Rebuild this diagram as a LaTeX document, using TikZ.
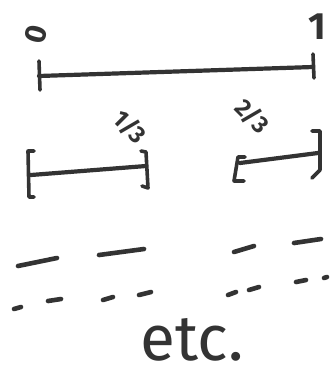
\documentclass[tikz,border=0pt]{standalone}
\usepackage{fontspec}
\setmainfont{Fira Sans}
\usetikzlibrary{calc}
\definecolor{ink}{HTML}{333333}
\tikzset{
  seg/.style={draw=ink, line width=4.2pt, line cap=round},
  tick/.style={draw=ink, line width=3.6pt, line cap=round, line join=round},
  dashseg/.style={draw=ink, line width=4.6pt, line cap=round},
  lbl/.style={text=ink, inner sep=0pt},
}
\begin{document}
\begin{tikzpicture}[x=1pt,y=-1pt]
\useasboundingbox[fill=white] (0,0) rectangle (334,376);
% labels
\node[lbl, font=\fontsize{30}{30}\selectfont\bfseries, rotate=75] (zero) at (36,34) {0};
\node[lbl, font=\fontsize{38}{38}\selectfont\bfseries] (one) at (317,27) {1};
% top segment
\coordinate (a0) at (39,76);
\coordinate (a1) at (313,67);
\draw[seg] (a0) -- (a1);
\draw[tick] ($(a0)+(0,-15)$) -- ($(a0)+(1,14)$);
\draw[tick] ($(a1)+(0,-13)$) -- ($(a1)+(1,11)$);
% second row, left
\coordinate (b0) at (31,175);
\coordinate (b1) at (146,166);
\draw[seg] (b0) -- (b1);
\draw[tick] (34,151) -- (28,151) -- (29,197) -- (34,197);
\draw[tick] (141,151) -- (146,152) -- (148,188) -- (142,186);
\node[lbl, font=\fontsize{24}{24}\selectfont\bfseries, rotate=-45] (third) at (130,127) {1/3};
% second row, right
\coordinate (c0) at (240,163);
\coordinate (c1) at (318,153);
\draw[seg] (c0) -- (c1);
\draw[tick] (245,157) -- (238,157) -- (234,181) -- (244,181);
\draw[tick] (312,131) -- (320,131) -- (320,170) -- (312,178);
\node[lbl, font=\fontsize{24}{24}\selectfont\bfseries, rotate=-45] (twothirds) at (252,116) {2/3};
% third row
\draw[dashseg] (18,266) -- (57,258);
\draw[dashseg] (99,255) -- (144,249);
\draw[dashseg] (234,252) -- (254,246);
\draw[dashseg] (294,243) -- (321,239);
% fourth row
\draw[dashseg] (14,309) -- (21,307);
\draw[dashseg] (48,301) -- (61,299);
\draw[dashseg] (103,300) -- (113,297);
\draw[dashseg] (139,295) -- (151,292);
\draw[dashseg] (228,295) -- (236,292);
\draw[dashseg] (249,290) -- (259,287);
\draw[dashseg] (296,282) -- (306,280);
\draw[dashseg] (324,278) -- (327,277);
% etc.
\node[lbl, font=\fontsize{64}{64}\selectfont] (etc) at (192,340) {etc.};
\end{tikzpicture}
\end{document}
